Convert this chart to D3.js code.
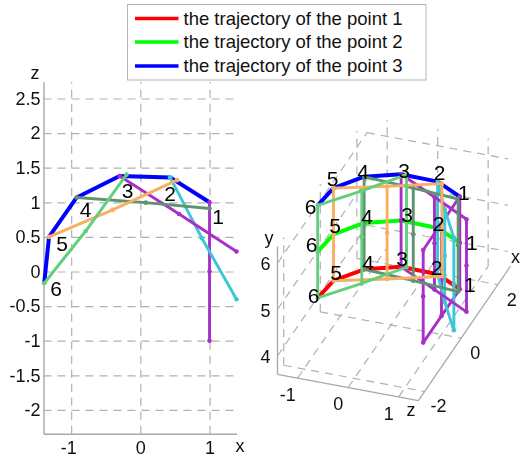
<!DOCTYPE html>
<html><head><meta charset="utf-8">
<script src="https://cdn.jsdelivr.net/npm/d3@7/dist/d3.min.js"></script>
<style>
html,body{margin:0;padding:0;background:#fff}
svg{display:block;font-family:"Liberation Sans",Arial,sans-serif;filter:blur(0.4px)}
</style></head><body>
<svg id="chart" width="520" height="459"></svg>
<script>
// ---- data ----
const legendLabels = ["the trajectory of the point 1","the trajectory of the point 2","the trajectory of the point 3"];
const pointNumbers = [1,2,3,4,5,6];
const pathX = [1.0,0.43,-0.30,-0.92,-1.32,-1.39];
const pathZ = [1.0,1.36,1.38,1.07,0.50,-0.17];
const level1Y = [4,4,4,4,4,4];
const level2Y = [5,5,5,5,5,5];
const level3Y = [6,6,6,6,6,6];
const frameX = [[1.0,1.0,1.0],[0.43,0.89,1.39],[-0.30,0.56,1.39],[-0.92,0.08,1.0],[-1.32,-0.40,0.53],[-1.39,-0.79,-0.20]];
const frameZ = [[1.0,0.0,-1.0],[1.36,0.48,-0.40],[1.38,0.83,0.29],[1.07,0.995,0.91],[0.50,0.89,1.32],[-0.17,0.585,1.40]];
const frameLevels = [4,5,6];
const xTicks = [-1,0,1];
const zTicksFlat = [-2,-1.5,-1,-0.5,0,0.5,1,1.5,2,2.5];
const yTicks3d = [4,5,6];
const zTicks3d = [-2,0,2];

// ---- style / layout ----
const curveColors = ["#ff0000","#00ff00","#0000ff"];
const frameColors = ["#a92fc9","#3cc6d8","#a92fc9","#5f9470","#f9ae62","#62cf7e"];
const axisColor = "#a8a8a8", gridColor = "#b0b0b0", textColor="#111";
const tickFont = 18, numFont = 21, curveW = 4, frameW = 2.9, markerR = 2.3;
const svg = d3.select("#chart");

// ---- legend ----
const lg = svg.append("g");
lg.append("rect").attr("x",127.5).attr("y",4.5).attr("width",298.5).attr("height",75.5)
  .attr("fill","#fff").attr("stroke","#b4b4b4").attr("stroke-width",1);
legendLabels.forEach((t,i)=>{
  const y=[18.5,42,66][i];
  lg.append("line").attr("x1",135).attr("x2",178.5).attr("y1",y).attr("y2",y)
    .attr("stroke",curveColors[i]).attr("stroke-width",3.4);
  lg.append("text").attr("x",183.5).attr("y",y+6).attr("font-size",18.5).attr("fill",textColor).text(t);
});

// ---- left panel: x-z view ----
const sx = d3.scaleLinear().domain([-1.4,1.39]).range([43.5,236.5]);
const sz = d3.scaleLinear().domain([-2.344,2.743]).range([433.7,81.7]);
const gFlat = svg.append("g");
const gy = gFlat.append("g").attr("transform","translate(43.5,0)")
  .call(d3.axisLeft(sz).tickValues(zTicksFlat).tickFormat(d=>String(d)).tickSize(-193).tickSizeOuter(0).tickPadding(3));
const gx = gFlat.append("g").attr("transform","translate(0,433.7)")
  .call(d3.axisBottom(sx).tickValues(xTicks).tickFormat(d=>String(d)).tickSize(-352).tickSizeOuter(0).tickPadding(8));
[gx,gy].forEach(g=>{
  g.selectAll(".tick line").attr("stroke",gridColor).attr("stroke-width",1.2).attr("stroke-dasharray","8,6");
  g.selectAll("text").attr("font-size",tickFont).attr("font-family","Liberation Sans").attr("fill",textColor);
  g.select(".domain").attr("stroke",axisColor).attr("stroke-width",1.4);
});
gx.selectAll("text").filter(d=>d<0).attr("dx",-3);
gFlat.append("text").attr("x",35).attr("y",79).attr("text-anchor","middle").attr("font-size",tickFont).attr("fill",textColor).text("z");
gFlat.append("text").attr("x",240).attr("y",452).attr("text-anchor","middle").attr("font-size",tickFont).attr("fill",textColor).text("x");

const flatLine = d3.line().x(d=>sx(d[0])).y(d=>sz(d[1]));
gFlat.append("path").attr("d",flatLine(pathX.map((x,i)=>[x,pathZ[i]])))
  .attr("fill","none").attr("stroke",curveColors[2]).attr("stroke-width",curveW).attr("stroke-linejoin","round");
frameX.forEach((xs,f)=>{
  const pts = xs.map((x,i)=>[x,frameZ[f][i]]);
  gFlat.append("path").attr("d",flatLine(pts)).attr("fill","none").attr("stroke",frameColors[f]).attr("stroke-width",frameW);
  gFlat.selectAll(null).data(pts).join("circle").attr("cx",d=>sx(d[0])).attr("cy",d=>sz(d[1])).attr("r",markerR).attr("fill",frameColors[f]);
});
const flatLabelOffset = [[8.5,15],[0,17],[8,15],[9,13],[13,7],[12,6]];
pointNumbers.forEach((n,i)=>{
  gFlat.append("text").attr("x",sx(pathX[i])+flatLabelOffset[i][0]).attr("y",sz(pathZ[i])+flatLabelOffset[i][1]+7)
    .attr("text-anchor","middle").attr("font-size",numFont).attr("fill","#000").text(n);
});

// ---- right panel: oblique 3-D view built from linear scales ----
const hxX = d3.scaleLinear().domain([0,1]).range([0,50.5]);
const hxY = d3.scaleLinear().domain([0,1]).range([0,9.4]);
const hzX = d3.scaleLinear().domain([0,1]).range([0,18.3]);
const hzY = d3.scaleLinear().domain([0,1]).range([0,-26.7]);
const hy  = d3.scaleLinear().domain([0,1]).range([0,-46.3]);
const ox=391, oy=491.7;
const P = (x,y,z)=>[ox+hxX(x)+hzX(z), oy+hxY(x)+hy(y)+hzY(z)];
const X0=-1.4,X1=1.39,Y0=3.6,Y1=6.36,Z0=-2.34,Z1=2.55;
const g3 = svg.append("g");
const seg=(a,b,dashed)=>{
  g3.append("line").attr("x1",a[0]).attr("y1",a[1]).attr("x2",b[0]).attr("y2",b[1])
    .attr("stroke",dashed?gridColor:axisColor).attr("stroke-width",dashed?1.2:1.3)
    .attr("stroke-dasharray",dashed?"8,6":null);
};
xTicks.forEach(x=>{
  seg(P(x,Y0,Z0),P(x,Y0,Z1),true);
  seg(P(x,Y0,Z1),P(x,Y1,Z1),true);
});
yTicks3d.forEach(y=>{
  seg(P(X0,y,Z0),P(X0,y,Z1),true);
  seg(P(X0,y,Z1),P(X1,y,Z1),true);
});
zTicks3d.forEach(z=>{
  seg(P(X0,Y0,z),P(X1,Y0,z),true);
  seg(P(X0,Y0,z),P(X0,Y1,z),true);
});
seg(P(X0,Y0,Z0),P(X1,Y0,Z0),false);
seg(P(X1,Y0,Z0),P(X1,Y0,2.7),false);
seg(P(X0,Y0,Z0),P(X0,Y1,Z0),false);

const tl=(x,y,t,anchor)=>g3.append("text").attr("x",x).attr("y",y).attr("text-anchor",anchor||"middle").attr("font-size",tickFont).attr("fill",textColor).text(t);
yTicks3d.forEach(y=>{const p=P(X0,y,Z0);tl(p[0]-12,p[1]+7,String(y));});
xTicks.forEach(x=>{const p=P(x,Y0,Z0);tl(p[0]-10,p[1]+23,String(x));});
zTicks3d.forEach(z=>{const p=P(X1,Y0,z);tl(p[0]+14,p[1]+21,String(z));});
tl(269,244,"y");tl(411,416,"z");tl(520,263,"x","end");

const line3 = d3.line().x(d=>d[0]).y(d=>d[1]);
[level1Y,level2Y,level3Y].forEach((ys,c)=>{
  const pts = pathX.map((x,i)=>P(x,ys[i],pathZ[i]));
  g3.append("path").attr("d",line3(pts)).attr("fill","none").attr("stroke",curveColors[c]).attr("stroke-width",curveW).attr("stroke-linejoin","round");
});
frameX.forEach((xs,f)=>{
  const top = xs.map((x,i)=>P(x,frameLevels[2],frameZ[f][i]));
  const bot = xs.map((x,i)=>P(x,frameLevels[0],frameZ[f][i]));
  [top,bot].forEach(pts=>g3.append("path").attr("d",line3(pts)).attr("fill","none").attr("stroke",frameColors[f]).attr("stroke-width",frameW));
  xs.forEach((x,i)=>{
    const col = frameLevels.map(y=>P(x,y,frameZ[f][i]));
    g3.append("path").attr("d",line3(col)).attr("fill","none").attr("stroke",frameColors[f]).attr("stroke-width",frameW);
    col.forEach(p=>g3.append("circle").attr("cx",p[0]).attr("cy",p[1]).attr("r",markerR).attr("fill",frameColors[f]));
  });
});
const numberOffset3 = {
  4:[[10,-4],[-1,-6],[1,-8],[4,-6],[2.5,-8],[-4,-2]],
  5:[[12,0],[1,-4],[6,-6],[3,-6],[1.5,-8],[-6,-7]],
  6:[[4,-4],[2,-9],[3,-3],[-1,-5],[-1,-9],[-7,2]]
};
[4,5,6].forEach(lv=>{
  pointNumbers.forEach((n,i)=>{
    const p=P(pathX[i],lv,pathZ[i]);
    const o=numberOffset3[lv][i];
    g3.append("text").attr("x",p[0]+o[0]).attr("y",p[1]+o[1]+7).attr("text-anchor","middle").attr("font-size",numFont).attr("fill","#000").text(n);
  });
});
</script>
</body></html>
